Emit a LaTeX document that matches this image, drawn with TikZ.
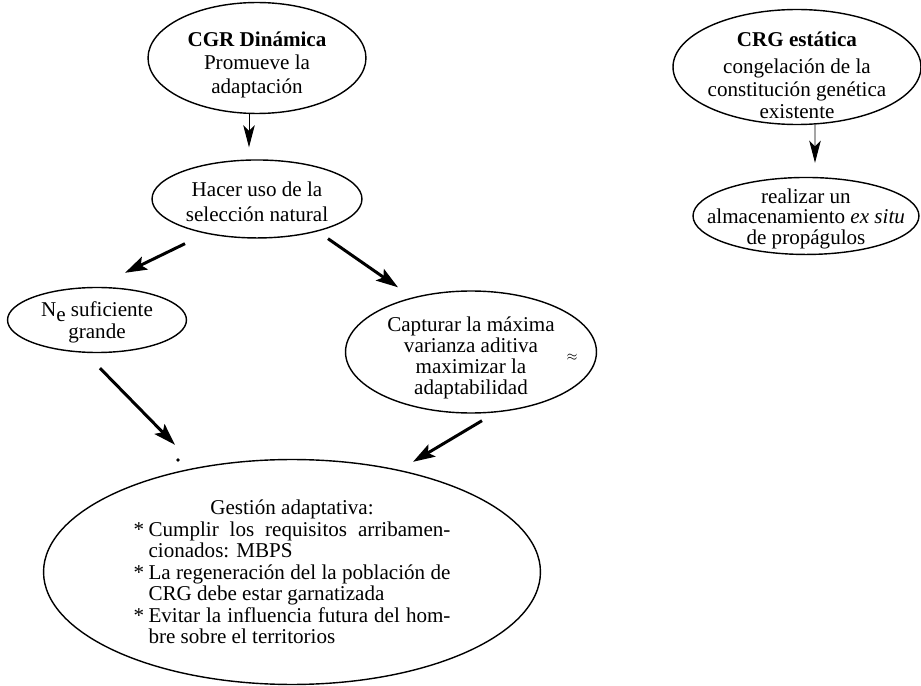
\documentclass[tikz,border=0pt]{standalone}
\usepackage{fontspec}
\setmainfont{Liberation Serif}
\usetikzlibrary{arrows.meta,positioning,shapes.geometric}
% invisible strut that pushes the text of a node down
\newcommand{\pushdown}[1]{\rule{0pt}{#1}}

\begin{document}
\begin{tikzpicture}[x=0.02cm, y=-0.02cm,
    bubble/.style={ellipse, draw, line width=0.8pt, align=center, inner xsep=-1cm, inner ysep=-0.3cm, font=\fontsize{12}{13}\selectfont},
    bigarrow/.style={-{Stealth[length=0.44cm, width=0.28cm, inset=0.09cm]}, line width=1.7pt},
    thinarrow/.style={-{Stealth[length=0.44cm, width=0.23cm, inset=0.11cm]}, line width=0.5pt}]
        \useasboundingbox (0,0) rectangle (921,686);

        % Nodes
        \node (cgr) [bubble, minimum width=4.36cm, minimum height=2.22cm, font=\fontsize{12}{13.3}\selectfont] at (257,58) {\pushdown{16pt}\textbf{CGR Dinámica}\\ Promueve la\\ adaptación};
        \node (hacer) [bubble, below of=cgr, node distance=2.82cm, minimum width=4.2cm, minimum height=1.56cm, font=\fontsize{12}{14}\selectfont] {\pushdown{11.5pt}Hacer uso de la\\ selección natural};
        \node (ne) [bubble, minimum width=3.58cm, minimum height=1.3cm, font=\fontsize{12}{11.5}\selectfont] at (97,320) {\pushdown{11pt}N\raisebox{-0.6ex}{e} suficiente\\ grande};
        \node (capturar) [bubble, minimum width=5.02cm, minimum height=2.44cm, font=\fontsize{12}{11.8}\selectfont] at (471,352) {\pushdown{15pt}Capturar la máxima\\ varianza aditiva\\ maximizar la\\ adaptabilidad};
        \node (aprox) at (572,357) {\scriptsize$\approx$};
        \node (gestion) [bubble, align=left, minimum width=9.94cm, minimum height=4.5cm, font=\fontsize{12}{12.2}\selectfont] at (292,572) {\makebox[6.34cm]{Gestión adaptativa:}\\
            \makebox[0.3cm][l]{*}\makebox[6.04cm][s]{Cumplir los requisitos arribamen-}\\
            \hspace*{0.3cm}cionados: MBPS\\
            \makebox[0.3cm][l]{*}\makebox[6.04cm][s]{La regeneración del la población de}\\
            \hspace*{0.3cm}CRG debe estar garnatizada\\
            \makebox[0.3cm][l]{*}\makebox[6.04cm][s]{Evitar la influencia futura del hom-}\\
            \hspace*{0.3cm}bre sobre el territorios};
        \node (crg) [bubble, minimum width=4.96cm, minimum height=2.3cm, font=\fontsize{12}{12.8}\selectfont] at (797,67) {\pushdown{18pt}\textbf{CRG estática}\\[2.5pt] congelación de la\\ constitución genética\\ existente};
        \node (realizar) [bubble, below of=crg, node distance=2.98cm, xshift=0.18cm, minimum width=4.52cm, minimum height=1.54cm, font=\fontsize{12}{11.7}\selectfont] {\pushdown{11.5pt}realizar un\\ almacenamiento \textit{ex situ}\\ de propágulos};

        % Edges
        \draw[thinarrow] ([shift={(-8,0)}]cgr.south) -- ([shift={(-8,-12)}]hacer.north);
        \draw[bigarrow] ([shift={(-72,5)}]hacer.south) -- ([shift={(28,-14)}]ne.north);
        \draw[bigarrow] ([shift={(71,0)}]hacer.south) -- ([shift={(-73,-3)}]capturar.north);
        \draw[bigarrow] ([shift={(3,15)}]ne.south) -- ([shift={(-117,-14)}]gestion.north);
        \draw[bigarrow] ([shift={(11,7)}]capturar.south) -- ([shift={(121,3)}]gestion.north);
        \draw[thinarrow] ([shift={(18,0)}]crg.south) -- ([shift={(9,-14)}]realizar.north);
        \fill (178,460) circle (1pt);
    \end{tikzpicture}
\end{document}
